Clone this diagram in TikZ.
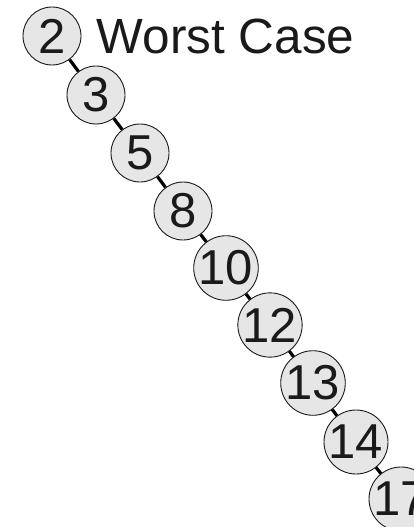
\documentclass[tikz,border=0pt]{standalone}
\usepackage{fontspec}
\setmainfont{Liberation Sans}
\definecolor{nodefill}{HTML}{E6E6E6}
\definecolor{inkc}{HTML}{1A1A1A}
\begin{document}
\begin{tikzpicture}[x=1pt,y=-1pt,
  tnode/.style={circle,draw=inkc,line width=0.9pt,fill=nodefill,minimum size=58pt,inner sep=0pt,
    text=inkc,font=\fontsize{49}{56}\selectfont},
  tedge/.style={draw=black,line width=3.2pt}]
\useasboundingbox (0,0) rectangle (414,527);
\clip (0,0) rectangle (414,527);
\node[tnode] (n2) at (52,36) {2};
\node[tnode] (n3) at (96,95) {3};
\node[tnode] (n5) at (140,153) {5};
\node[tnode] (n8) at (183,211) {8};
\node[tnode] (n10) at (226,268) {10};
\node[tnode] (n12) at (270,325) {12};
\node[tnode] (n13) at (313,383) {13};
\node[tnode] (n14) at (356,442) {14};
\node[tnode] (n17) at (401,499) {17};
\draw[tedge] (n2) -- (n3);
\draw[tedge] (n3) -- (n5);
\draw[tedge] (n5) -- (n8);
\draw[tedge] (n8) -- (n10);
\draw[tedge] (n10) -- (n12);
\draw[tedge] (n12) -- (n13);
\draw[tedge] (n13) -- (n14);
\draw[tedge] (n14) -- (n17);
\node[anchor=base west,inner sep=0pt,text=inkc,font=\fontsize{49.5}{58}\selectfont] (title) at (96.5,53) {Worst Case};
\end{tikzpicture}
\end{document}
